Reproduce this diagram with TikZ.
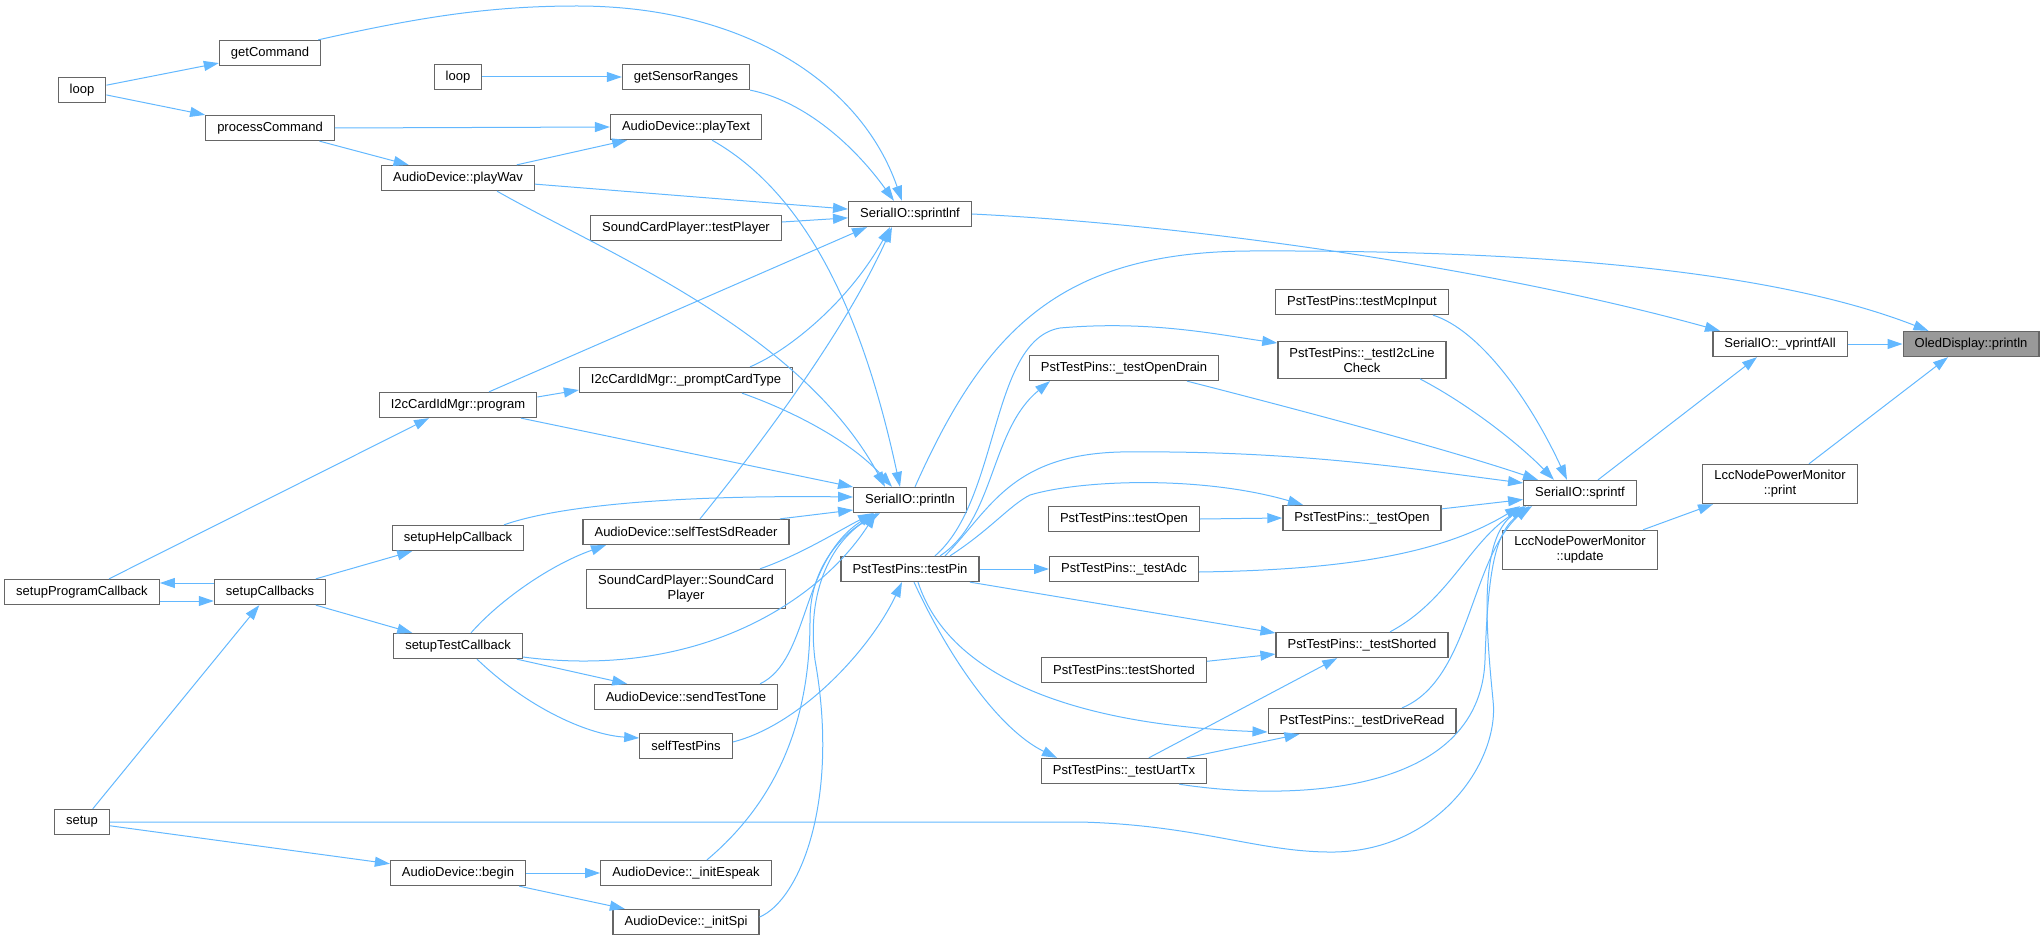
\documentclass[tikz,border=0pt]{standalone}
\usepackage{fontspec}
\setmainfont{Liberation Sans}
\usetikzlibrary{arrows.meta}
\definecolor{edgeblue}{HTML}{63B8FF}
\definecolor{boxgrey}{HTML}{666666}
\definecolor{maingrey}{HTML}{999999}
\tikzset{
  fn/.style={draw=boxgrey, line width=1.3pt, fill=white, align=center,
    minimum height=25pt, inner xsep=11.5pt, inner ysep=6pt,
    font=\fontsize{13}{15}\selectfont},
  call/.style={draw=edgeblue, line width=1pt, -{Triangle[length=15pt,width=10pt]}}
}
\begin{document}
\begin{tikzpicture}[x=1pt,y=-1pt]
        \useasboundingbox (0,0) rectangle (2044,941);

        \begin{scope}[every node/.style={fn}]
          \node (1)  at (1971,344) [fill=maingrey] {OledDisplay::println};
          \node (2)  at (1780,344) {SerialIO::\_vprintfAll};
          \node (3)  at (1780,484) {LccNodePowerMonitor\\::print};
          \node (4)  at (1580,550) {LccNodePowerMonitor\\::update};
          \node (5)  at (1580,493) {SerialIO::sprintf};
          \node (6)  at (910,214)  {SerialIO::sprintlnf};
          \node (7)  at (910,500)  {SerialIO::println};
          \node (8)  at (1362,302) {PstTestPins::testMcpInput};
          \node (9)  at (1362,360) {PstTestPins::\_testI2cLine\\Check};
          \node (10) at (1124,368) {PstTestPins::\_testOpenDrain};
          \node (11) at (1362,518) {PstTestPins::\_testOpen};
          \node (12) at (1124,519) {PstTestPins::testOpen};
          \node (13) at (1124,569) {PstTestPins::\_testAdc};
          \node (14) at (1362,645) {PstTestPins::\_testShorted};
          \node (15) at (1124,670) {PstTestPins::testShorted};
          \node (16) at (1362,721) {PstTestPins::\_testDriveRead};
          \node (17) at (1124,771) {PstTestPins::\_testUartTx};
          \node (18) at (910,569)  {PstTestPins::testPin};
          \node (19) at (270,53)   {getCommand};
          \node (20) at (82,90)    {loop};
          \node (21) at (458,77)   {loop};
          \node (22) at (686,77)   {getSensorRanges};
          \node (23) at (270,128)  {processCommand};
          \node (24) at (686,127)  {AudioDevice::playText};
          \node (25) at (458,178)  {AudioDevice::playWav};
          \node (26) at (686,228)  {SoundCardPlayer::testPlayer};
          \node (27) at (458,405)  {I2cCardIdMgr::program};
          \node (28) at (686,380)  {I2cCardIdMgr::\_promptCardType};
          \node (29) at (686,532)  {AudioDevice::selfTestSdReader};
          \node (30) at (686,589)  {SoundCardPlayer::SoundCard\\Player};
          \node (31) at (458,538)  {setupHelpCallback};
          \node (32) at (82,592)   {setupProgramCallback};
          \node (33) at (270,592)  {setupCallbacks};
          \node (34) at (458,646)  {setupTestCallback};
          \node (35) at (686,697)  {AudioDevice::sendTestTone};
          \node (36) at (686,746)  {selfTestPins};
          \node (37) at (82,822)   {setup};
          \node (38) at (458,873)  {AudioDevice::begin};
          \node (39) at (686,873)  {AudioDevice::\_initEspeak};
          \node (40) at (686,922)  {AudioDevice::\_initSpi};
        \end{scope}

        \begin{scope}[every edge/.style={call}]
          \path (20) edge (19);
          \path (20) edge (23);
          \path (21) edge (22);
          \path (23.east) edge (24.west);
          \path (23) edge (25);
          \path (25) edge (24);
          \path (25) edge (6);
          \path (26) edge (6);
          \path ([xshift=31pt]27.north) edge ([xshift=-43pt]6.south);
          \path ([yshift=8pt]27.east) edge ([yshift=-10pt]28.west);
          \path ([xshift=63pt]27.south) edge ([yshift=13pt]7.west);
          \path ([xshift=27pt]32.north) edge ([xshift=-29pt]27.south);
          \path ([yshift=-9pt]32.east) edge ([yshift=-9pt]33.west);
          \path ([yshift=9pt]33.west) edge ([yshift=9pt]32.east);
          \path (33) edge (31);
          \path (33) edge (34);
          \path (37) edge (33);
          \path (37) edge (38);
          \path (38) edge (39);
          \path (38) edge (40);
          \path (34) edge (35);
          \path ([xshift=94pt]29.north) edge ([yshift=-10pt]7.west);
          \path (18.east) edge (13.west);
          \path ([xshift=60pt]18.south) edge ([yshift=12pt]14.west);
          \path (12.east) edge (11.west);
          \path (11) edge (5);
          \path (15) edge (14);
          \path (17) edge (14);
          \path (17) edge (16);
          \path (2.east) edge (1.west);
          \path ([xshift=18pt]5.north) edge ([xshift=-23pt]2.south);
          \path ([xshift=63pt]4.north) edge ([xshift=-67pt]3.south);
          \path ([xshift=29pt]3.north) edge ([xshift=-23pt]1.south);
        \end{scope}

        \draw[call] ([xshift=-3pt]19.north east) .. controls (420,17) and (490,6) .. (577,6)
          .. controls (740,6) and (860,80) .. ([xshift=-8pt]6.north);
        \draw[call] (22.south east) .. controls (800,100) and (850,140) .. ([xshift=-16pt]6.north);
        \draw[call] ([xshift=39pt]25.south) .. controls (600,250) and (800,330) .. ([xshift=-25pt]7.north);
        \draw[call] ([xshift=26pt]24.south) .. controls (800,190) and (860,300) .. ([xshift=-10pt]7.north);
        \draw[call] ([xshift=64pt]28.north) .. controls (790,350) and (850,300) .. ([xshift=-20pt]6.south);
        \draw[call] ([xshift=14pt]29.north) .. controls (780,420) and (850,320) .. ([xshift=-18pt]6.south);
        \draw[call] ([xshift=56pt]28.south) .. controls (790,410) and (850,440) .. ([xshift=-18pt]7.north);
        \draw[call] ([xshift=74pt]30.north) .. controls (800,555) and (840,530) .. ([xshift=-37pt]7.south);
        \draw[call] ([xshift=46pt]31.north) .. controls (560,505) and (680,495) .. ([yshift=3pt]7.west);
        \draw[call] ([xshift=13pt]34.north) .. controls (500,600) and (550,565) .. ([xshift=-80pt]29.south);
        \draw[call] ([yshift=-11pt]34.east) .. controls (700,680) and (820,600) .. ([xshift=-34pt]7.south);
        \draw[call] ([xshift=19pt]34.south) .. controls (530,710) and (590,735) .. ([yshift=8pt]36.west);
        \draw[call] ([xshift=74pt]35.north) .. controls (810,660) and (800,560) .. ([xshift=-36pt]7.south);
        \draw[call] ([xshift=21pt]39.north) .. controls (790,790) and (810,700) .. (810,620)
          .. controls (810,560) and (850,530) .. ([xshift=-32pt]7.south);
        \draw[call] ([yshift=5pt]40.east) .. controls (800,900) and (840,800) .. (815,660)
          .. controls (805,580) and (840,535) .. ([xshift=-30pt]7.south);
        \draw[call] ([yshift=4pt]36.east) .. controls (800,725) and (870,650) .. ([xshift=-8pt]18.south);
        \draw[call] (37.east) -- (1080,822) .. controls (1200,825) and (1260,853) .. (1335,852)
          .. controls (1440,850) and (1500,760) .. (1493,700)
          .. controls (1485,620) and (1480,540) .. ([xshift=1pt]5.south west);
        \draw[call] ([xshift=5pt]7.north) .. controls (985,330) and (1060,252) .. (1250,251)
          .. controls (1500,250) and (1760,265) .. ([xshift=26pt]1.north west);
        \draw[call] (6.east) .. controls (1200,225) and (1500,270) .. ([xshift=-60pt]2.north);

        \draw[call] ([xshift=25pt]18.north) .. controls (1000,500) and (990,340) .. (1060,328)
          .. controls (1150,320) and (1220,335) .. ([yshift=17pt]9.west);
        \draw[call] ([xshift=30pt]18.north) .. controls (995,520) and (990,430) .. ([xshift=-74pt]10.south);
        \draw[call] ([xshift=35pt]18.north) .. controls (990,510) and (1010,455) .. (1120,452)
          .. controls (1300,450) and (1420,470) .. ([yshift=10pt]5.west);
        \draw[call] ([xshift=40pt]18.north) .. controls (990,530) and (1010,505) .. (1030,495)
          .. controls (1080,480) and (1200,475) .. ([xshift=-59pt]11.north);
        \draw[call] ([xshift=8pt]18.south) .. controls (950,680) and (1080,725) .. ([yshift=-11pt]16.west);
        \draw[call] ([xshift=4pt]18.south) .. controls (950,660) and (1000,730) .. ([xshift=-67pt]17.north);
        \draw[call] ([yshift=-3pt]13.east) .. controls (1340,570) and (1440,555) .. ([xshift=-3pt]5.south west);
        \draw[call] ([xshift=28pt]14.north) .. controls (1450,600) and (1470,540) .. ([xshift=3pt]5.south west);
        \draw[call] ([xshift=40pt]16.north) .. controls (1470,680) and (1470,560) .. ([xshift=6pt]5.south west);
        \draw[call] ([xshift=55pt]17.south) .. controls (1280,800) and (1480,800) .. (1485,660)
          .. controls (1488,570) and (1495,530) .. ([xshift=9pt]5.south west);
        \draw[call] ([xshift=71pt]8.south) .. controls (1480,330) and (1530,400) .. ([xshift=-13pt]5.north);
        \draw[call] ([xshift=58pt]9.south) .. controls (1470,405) and (1520,445) .. ([xshift=-26pt]5.north);
        \draw[call] ([xshift=63pt]10.south) .. controls (1300,410) and (1450,450) .. ([xshift=-42pt]5.north);

      \end{tikzpicture}
\end{document}
